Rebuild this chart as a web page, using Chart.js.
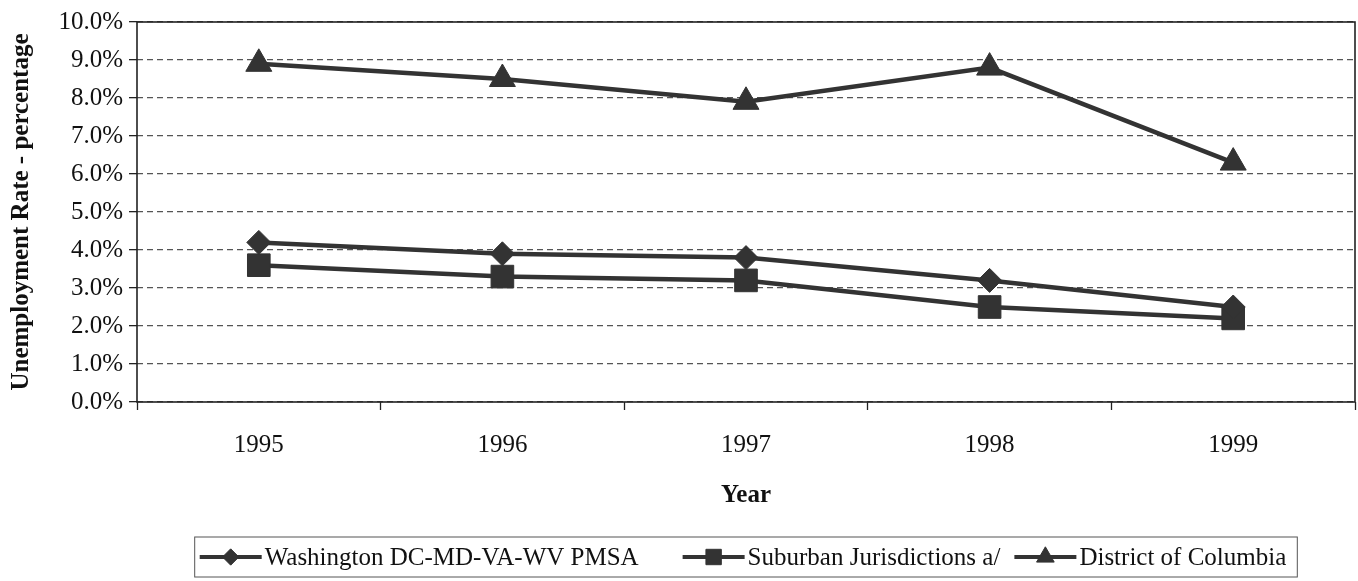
<!DOCTYPE html>
<html>
<head>
<meta charset="utf-8">
<script src="https://cdn.jsdelivr.net/npm/chart.js@4.4.1/dist/chart.umd.min.js"></script>
<style>
  html, body { margin: 0; padding: 0; background: #fff; }
  canvas { display: block; }
</style>
</head>
<body>
<canvas id="werkloosheid" width="1358" height="581"></canvas>
<script>
const YEARS = ['1995', '1996', '1997', '1998', '1999'];
const PMSA = [4.2, 3.9, 3.8, 3.2, 2.5];
const SUBURBAN = [3.6, 3.3, 3.2, 2.5, 2.2];
const DISTRICT = [8.9, 8.5, 7.9, 8.8, 6.3];
const SERIES_NAMES = ['Washington DC-MD-VA-WV PMSA', 'Suburban Jurisdictions a/', 'District of Columbia'];
const Y_MIN = 0;
const Y_MAX = 10;
const Y_STEP = 1;

const MARKERS = ['rectRot', 'rect', 'triangle'];
const MARKER_SIZES = [12, 16, 15];

const INK = '#333333';
const FONT = "'Liberation Serif', 'Times New Roman', serif";
const SYMBOL_W = 62;
const SYMBOL_GAP = 3;
const ITEM_GAPS = [44, 14];

function markerPath(ctx, style, x, y, r) {
  ctx.beginPath();
  if (style === 'rect') {
    const s = r * Math.SQRT1_2;
    ctx.rect(x - s, y - s, 2 * s, 2 * s);
  } else if (style === 'rectRot') {
    ctx.moveTo(x, y - r);
    ctx.lineTo(x + r, y);
    ctx.lineTo(x, y + r);
    ctx.lineTo(x - r, y);
    ctx.closePath();
  } else {
    for (let k = 0; k < 3; k++) {
      const a = k * 2 * Math.PI / 3;
      ctx.lineTo(x + Math.sin(a) * r, y - Math.cos(a) * r);
    }
    ctx.closePath();
  }
}

function drawSymbol(ctx, ds, x, y) {
  ctx.strokeStyle = INK;
  ctx.lineWidth = 4;
  ctx.beginPath();
  ctx.moveTo(x, y);
  ctx.lineTo(x + SYMBOL_W, y);
  ctx.stroke();
  ctx.fillStyle = INK;
  ctx.lineWidth = 1;
  markerPath(ctx, ds.pointStyle, x + SYMBOL_W / 2, y, ds.pointRadius * 0.68);
  ctx.fill();
  ctx.stroke();
}

// kader om het plotgebied, zoals in het origineel
const frame = {
  id: 'frame',
  beforeDatasetsDraw(chart) {
    const { ctx, chartArea: a } = chart;
    ctx.save();
    ctx.strokeStyle = '#222';
    ctx.lineWidth = 1.6;
    ctx.strokeRect(a.left, a.top, a.right - a.left, a.bottom - a.top);
    ctx.restore();
  }
};

// legenda met lijn + marker en een rand eromheen
const legendBox = {
  id: 'legendBox',
  afterDraw(chart) {
    const { ctx, chartArea: a } = chart;
    const y = chart.height - 24;
    ctx.save();
    ctx.font = `25px ${FONT}`;
    const items = chart.data.datasets.map(ds => ({
      ds,
      w: SYMBOL_W + SYMBOL_GAP + ctx.measureText(ds.label).width
    }));
    const gaps = ITEM_GAPS.reduce((s, g) => s + g, 0);
    const total = items.reduce((s, it) => s + it.w, 0) + gaps;
    let x = (a.left + a.right) / 2 - 3 - total / 2;

    ctx.strokeStyle = '#555';
    ctx.lineWidth = 1;
    ctx.strokeRect(x - 5, y - 20, total + 16, 40);

    items.forEach((it, i) => {
      drawSymbol(ctx, it.ds, x, y);
      ctx.fillStyle = '#111';
      ctx.textBaseline = 'middle';
      ctx.textAlign = 'left';
      ctx.fillText(it.ds.label, x + SYMBOL_W + SYMBOL_GAP, y + 1);
      x += it.w + (ITEM_GAPS[i] || 0);
    });
    ctx.restore();
  }
};

function makeDataset(i, data) {
  return {
    label: SERIES_NAMES[i],
    data,
    borderColor: INK,
    backgroundColor: INK,
    borderWidth: 4.5,
    pointStyle: MARKERS[i],
    pointRadius: MARKER_SIZES[i],
    pointHoverRadius: MARKER_SIZES[i],
    pointBackgroundColor: INK,
    pointBorderColor: INK,
    pointBorderWidth: 1,
    tension: 0
  };
}

new Chart(document.getElementById('werkloosheid'), {
  type: 'line',
  data: {
    labels: YEARS,
    datasets: [makeDataset(0, PMSA), makeDataset(1, SUBURBAN), makeDataset(2, DISTRICT)]
  },
  plugins: [frame, legendBox],
  options: {
    responsive: false,
    animation: false,
    // grote markers laten Chart.js anders extra ruimte rechts vrijhouden
    layout: { autoPadding: false, padding: { top: 22, right: 3, left: 0, bottom: 61 } },
    plugins: {
      legend: { display: false },
      tooltip: { enabled: false }
    },
    scales: {
      x: {
        offset: true,
        afterFit: scale => {
          scale.height = 118;
          scale.paddingLeft = 0;
          scale.paddingRight = 0;
        },
        grid: {
          offset: true,
          drawOnChartArea: false,
          drawTicks: true,
          tickLength: 8,
          tickColor: '#222',
          tickWidth: 1.3
        },
        border: { display: false },
        ticks: {
          color: '#111',
          padding: 20,
          font: { family: FONT, size: 25 }
        },
        title: {
          display: true,
          text: 'Year',
          color: '#111',
          padding: { top: 0, bottom: 9 },
          font: { family: FONT, size: 25, weight: 'bold' }
        }
      },
      y: {
        min: Y_MIN,
        max: Y_MAX,
        afterFit: scale => { scale.width = 137; },
        grid: {
          color: '#555',
          lineWidth: 1.3,
          drawTicks: true,
          tickLength: 8,
          tickColor: '#222',
          tickWidth: 1.3,
          tickBorderDash: []
        },
        border: { display: false, dash: [6, 4] },
        ticks: {
          stepSize: Y_STEP,
          color: '#111',
          padding: 6,
          font: { family: FONT, size: 25 },
          callback: v => v.toFixed(1) + '%'
        },
        title: {
          display: true,
          text: 'Unemployment Rate - percentage',
          color: '#111',
          padding: { top: 7, bottom: 0 },
          font: { family: FONT, size: 25, weight: 'bold' }
        }
      }
    }
  }
});
</script>
</body>
</html>
